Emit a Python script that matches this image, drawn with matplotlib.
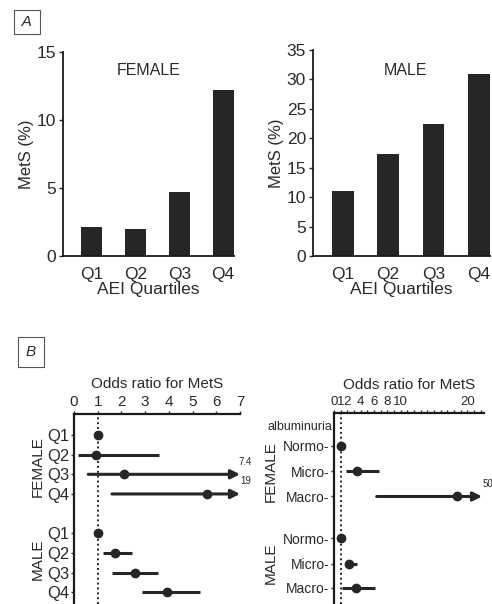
import numpy as np
import matplotlib
matplotlib.use("Agg")
import matplotlib.pyplot as plt

plt.rcParams.update({
    'font.family': ['Liberation Sans', 'DejaVu Sans'],
    'font.size': 11,
    'text.color': '#2a2a2a',
    'axes.labelcolor': '#2a2a2a',
    'xtick.color': '#2a2a2a',
    'ytick.color': '#2a2a2a',
    'axes.edgecolor': '#1a1a1a',
})

DARK = '#262626'

# ---- Panel A data: MetS prevalence by AEI quartile
quartiles = ['Q1', 'Q2', 'Q3', 'Q4']
female_mets = [2.1, 1.95, 4.7, 12.2]
male_mets = [11.1, 17.4, 22.5, 30.9]

# ---- Panel B left: odds ratios by AEI quartile
or_labels = ['Q1', 'Q2', 'Q3', 'Q4', 'Q1', 'Q2', 'Q3', 'Q4']
or_point = [1.0, 0.92, 2.1, 5.6, 1.0, 1.74, 2.58, 3.94]
or_lo = [1.0, 0.18, 0.6, 1.6, 1.0, 1.22, 1.6, 2.87]
or_hi = [1.0, 3.59, 7.4, 19, 1.0, 2.45, 3.56, 5.33]
or_hi_text = ['', '', '7.4', '19', '', '', '', '']

# ---- Panel B right: odds ratios by albuminuria
alb_labels = ['Normo-', 'Micro-', 'Macro-', 'Normo-', 'Micro-', 'Macro-']
alb_point = [1.0, 3.5, 18.4, 1.0, 2.3, 3.3]
alb_lo = [1.0, 1.8, 6.4, 1.0, 1.65, 1.15]
alb_hi = [1.0, 6.8, 50, 1.0, 3.4, 6.2]
alb_hi_text = ['', '', '50', '', '', '']

fig = plt.figure(figsize=(4.92, 6.04), dpi=100)


def bar_panel(rect, vals, ymax, step, title, tx, ty):
    ax = fig.add_axes(rect)
    x = np.arange(1, 5)
    ax.bar(x, vals, width=0.48, color=DARK)
    ax.set_xlim(0.34, 4.25)
    ax.set_ylim(0, ymax)
    ax.set_yticks(np.arange(0, ymax + 1, step))
    ax.set_xticks(x)
    ax.set_xticklabels(quartiles)
    ax.tick_params(axis='x', length=0, labelsize=12.5, pad=8)
    ax.tick_params(axis='y', length=3, width=1, labelsize=12.5, pad=2)
    for s in ['top', 'right']:
        ax.spines[s].set_visible(False)
    ax.spines['left'].set_linewidth(1.3)
    ax.spines['bottom'].set_linewidth(1.3)
    ax.set_xlabel('AEI Quartiles', fontsize=12.5, labelpad=0)
    ax.set_ylabel('MetS (%)', fontsize=12, labelpad=2)
    ax.text(tx, ty, title, transform=ax.transAxes, ha='center', va='center', fontsize=11.5)
    return ax


bar_panel([0.128, 0.5762, 0.3476, 0.3377], female_mets, 15, 5, 'FEMALE', 0.503, 0.91)
bar_panel([0.6362, 0.5762, 0.3598, 0.341], male_mets, 35, 5, 'MALE', 0.525, 0.90)

fig.text(27 / 492, 1 - 22 / 604, ' A ', ha='center', va='center', fontsize=11, style='italic',
         bbox=dict(boxstyle='square,pad=0.3', fc='white', ec='#555555', lw=0.8))
fig.text(31 / 492, 1 - 352 / 604, 'B', ha='center', va='center', fontsize=11, style='italic',
         bbox=dict(boxstyle='square,pad=0.5', fc='white', ec='#555555', lw=0.8))


def forest_panel(rect, ypos, labels, pt, lo, hi, hi_text, xlim, ylim, xtick_major,
                 xtick_minor, tick_fs, ylab_fs, arrow_end):
    ax = fig.add_axes(rect)
    ax.set_xlim(*xlim)
    ax.set_ylim(*ylim)
    ax.axvline(1, color=DARK, ls=(0, (1, 1.5)), lw=1.4, zorder=1)
    for y, p, l, h, t in zip(ypos, pt, lo, hi, hi_text):
        if h > xlim[1]:
            ax.annotate('', xy=(arrow_end, y), xytext=(l, y),
                        arrowprops=dict(arrowstyle='-|>', lw=2.2, color=DARK,
                                        mutation_scale=13, shrinkA=0, shrinkB=0))
            ax.annotate(t, xy=(arrow_end, y), xytext=(4, 9), textcoords='offset points',
                        ha='center', va='center', fontsize=7, annotation_clip=False)
        elif h > l:
            ax.plot([l, h], [y, y], color=DARK, lw=2.2, solid_capstyle='butt', zorder=2)
        ax.plot(p, y, 'o', color=DARK, ms=6, zorder=3)
    ax.set_yticks(ypos)
    ax.set_yticklabels(labels)
    ax.xaxis.tick_top()
    ax.xaxis.set_label_position('top')
    ax.set_xticks(xtick_major)
    ax.set_xticks(xtick_minor, minor=True)
    ax.tick_params(axis='x', which='major', length=2.5, width=1, labelsize=tick_fs, pad=1)
    ax.tick_params(axis='x', which='minor', length=2, width=1)
    ax.tick_params(axis='y', length=2.5, width=1, labelsize=ylab_fs, pad=1)
    for s in ['bottom', 'right']:
        ax.spines[s].set_visible(False)
    ax.spines['left'].set_linewidth(1.6)
    ax.spines['top'].set_linewidth(1.6)
    ax.set_xlabel('Odds ratio for MetS', fontsize=11, labelpad=5)
    return ax


axl = forest_panel([0.1504, 0.0, 0.3374, 0.3146], [0, 1, 2, 3, 5, 6, 7, 8], or_labels,
                   or_point, or_lo, or_hi, or_hi_text, (0, 7.0), (8.6, -1.07),
                   np.arange(0, 8), [], 11, 12, 7.0)
axl.text(-0.22, 1.6, 'FEMALE', rotation=90, ha='center', va='center', fontsize=11,
         transform=axl.get_yaxis_transform())
axl.text(-0.22, 6.3, 'MALE', rotation=90, ha='center', va='center', fontsize=11,
         transform=axl.get_yaxis_transform())

axr = forest_panel([0.6789, 0.0, 0.3049, 0.3162], [0, 1, 2, 3.65, 4.65, 5.6], alb_labels,
                   alb_point, alb_lo, alb_hi, alb_hi_text, (0, 22.5), (6.25, -1.3),
                   [0, 1, 2, 4, 6, 8, 10, 20], np.arange(0, 23), 9.5, 10, 22.2)
axr.text(-0.01, -0.75, 'albuminuria', ha='right', va='center', fontsize=9,
         transform=axr.get_yaxis_transform())
axr.text(-0.42, 1.0, 'FEMALE', rotation=90, ha='center', va='center', fontsize=11,
         transform=axr.get_yaxis_transform())
axr.text(-0.42, 4.65, 'MALE', rotation=90, ha='center', va='center', fontsize=11,
         transform=axr.get_yaxis_transform())

fig.savefig('out.png', dpi=100, facecolor='white')
